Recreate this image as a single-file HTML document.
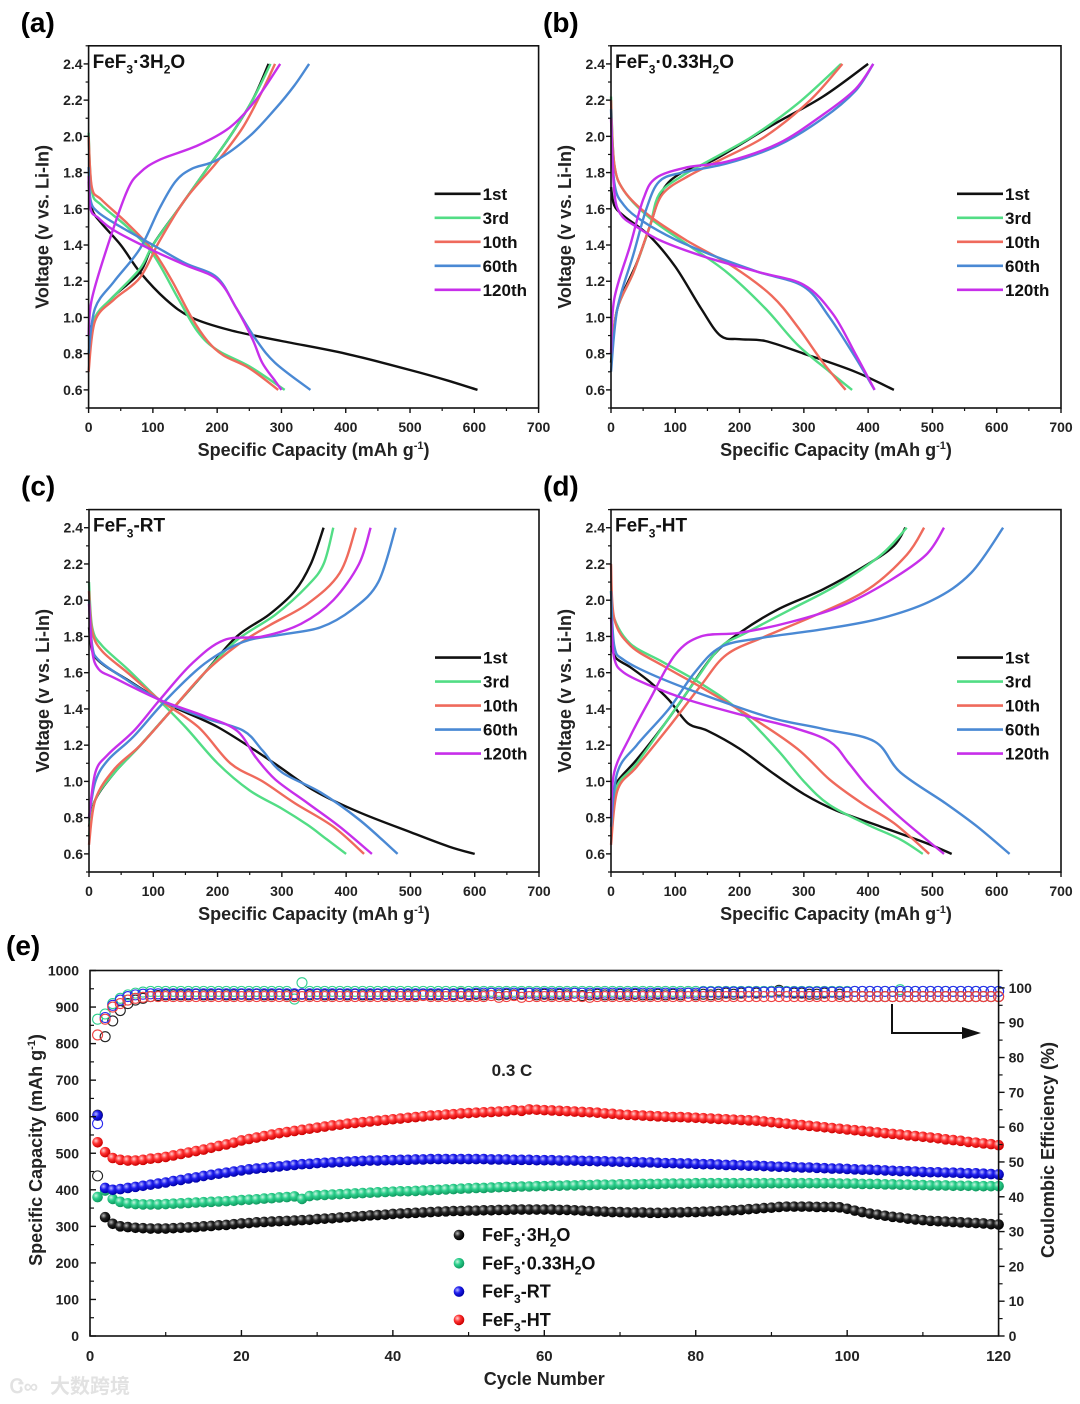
<!DOCTYPE html>
<html><head><meta charset="utf-8">
<style>
html,body{margin:0;padding:0;background:#fff;}
svg{display:block;font-family:"Liberation Sans",Arial,sans-serif;font-weight:bold;}
</style></head>
<body>
<svg id="fig" width="1080" height="1404" viewBox="0 0 1080 1404" xmlns="http://www.w3.org/2000/svg">
<defs>
<radialGradient id="gBlack" cx="35%" cy="35%" r="65%"><stop offset="0" stop-color="#bbb"/><stop offset="0.45" stop-color="#222"/><stop offset="1" stop-color="#000"/></radialGradient>
<radialGradient id="gGreen" cx="35%" cy="35%" r="65%"><stop offset="0" stop-color="#c8f5e0"/><stop offset="0.45" stop-color="#2ccf8c"/><stop offset="1" stop-color="#109a60"/></radialGradient>
<radialGradient id="gBlue" cx="35%" cy="35%" r="65%"><stop offset="0" stop-color="#b8b8ff"/><stop offset="0.45" stop-color="#1f1fee"/><stop offset="1" stop-color="#0000a8"/></radialGradient>
<radialGradient id="gRed" cx="35%" cy="35%" r="65%"><stop offset="0" stop-color="#ffd0d0"/><stop offset="0.45" stop-color="#f33"/><stop offset="1" stop-color="#c00"/></radialGradient>
</defs>
</svg>
<script>
// ===== Panel (a) FeF3·3H2O : [capacity, voltage] =====
const a_1st_dis=[[0,1.75],[5,1.6],[20,1.52],[50,1.4],[80,1.25],[120,1.1],[160,1.0],[220,0.93],[300,0.87],[400,0.8],[500,0.71],[560,0.65],[605,0.6]];
const a_1st_chg=[[0,0.9],[10,1.0],[40,1.12],[80,1.25],[100,1.4],[140,1.6],[180,1.8],[220,2.0],[255,2.2],[280,2.4]];
const a_3rd_dis=[[0,2.02],[5,1.7],[20,1.62],[60,1.5],[100,1.35],[140,1.1],[170,0.92],[200,0.82],[250,0.73],[305,0.6]];
const a_3rd_chg=[[0,0.8],[10,1.0],[40,1.12],[80,1.27],[100,1.4],[140,1.6],[180,1.8],[220,2.0],[255,2.2],[283,2.4]];
const a_10th_dis=[[0,2.0],[5,1.72],[20,1.65],[60,1.52],[100,1.37],[130,1.2],[160,1.0],[185,0.87],[210,0.79],[250,0.72],[295,0.6]];
const a_10th_chg=[[0,0.7],[10,0.98],[40,1.1],[80,1.22],[110,1.42],[150,1.65],[200,1.86],[240,2.05],[270,2.25],[290,2.4]];
const a_60th_dis=[[0,1.83],[3,1.65],[15,1.58],[50,1.5],[100,1.4],[150,1.3],[200,1.22],[230,1.05],[260,0.88],[290,0.75],[345,0.6]];
const a_60th_chg=[[0,0.8],[10,1.05],[40,1.2],[80,1.38],[110,1.6],[135,1.75],[160,1.82],[200,1.87],[250,2.0],[290,2.15],[320,2.28],[343,2.4]];
const a_120th_dis=[[0,1.78],[3,1.6],[15,1.55],[40,1.48],[100,1.37],[150,1.29],[200,1.21],[230,1.05],[255,0.88],[270,0.75],[290,0.65],[300,0.6]];
const a_120th_chg=[[0,0.9],[5,1.1],[30,1.4],[60,1.7],[80,1.8],[110,1.87],[170,1.95],[220,2.05],[260,2.2],[298,2.4]];
// ===== Panel (b) FeF3·0.33H2O =====
const b_1st_dis=[[0,1.72],[5,1.62],[20,1.56],[60,1.45],[100,1.28],[140,1.05],[170,0.9],[200,0.88],[240,0.87],[300,0.8],[380,0.7],[440,0.6]];
const b_1st_chg=[[0,0.75],[10,1.05],[40,1.3],[60,1.5],[80,1.7],[110,1.8],[160,1.87],[250,2.06],[330,2.22],[400,2.4]];
const b_3rd_dis=[[0,2.22],[5,1.85],[20,1.7],[60,1.55],[120,1.4],[180,1.25],[240,1.05],[290,0.85],[340,0.7],[375,0.6]];
const b_3rd_chg=[[0,0.8],[10,1.05],[35,1.25],[60,1.5],[75,1.68],[110,1.78],[160,1.88],[220,2.0],[290,2.18],[358,2.4]];
const b_10th_dis=[[0,2.2],[5,1.85],[20,1.7],[60,1.56],[120,1.42],[190,1.28],[250,1.12],[290,0.95],[330,0.75],[365,0.6]];
const b_10th_chg=[[0,0.8],[10,1.05],[35,1.25],[60,1.5],[80,1.68],[120,1.78],[170,1.87],[240,2.0],[310,2.2],[360,2.4]];
const b_60th_dis=[[0,2.15],[5,1.75],[20,1.62],[50,1.53],[100,1.43],[160,1.34],[230,1.25],[300,1.17],[340,1.0],[380,0.78],[410,0.6]];
const b_60th_chg=[[0,0.7],[10,1.05],[35,1.35],[55,1.6],[75,1.75],[110,1.8],[180,1.85],[260,1.95],[330,2.1],[380,2.25],[408,2.4]];
const b_120th_dis=[[0,2.1],[5,1.7],[15,1.57],[40,1.5],[80,1.42],[150,1.33],[230,1.25],[300,1.18],[345,1.02],[380,0.8],[410,0.6]];
const b_120th_chg=[[0,0.8],[5,1.1],[30,1.4],[50,1.65],[70,1.77],[120,1.83],[180,1.86],[260,1.96],[330,2.12],[380,2.26],[408,2.4]];
// ===== Panel (c) FeF3-RT =====
const c_1st_dis=[[0,1.85],[5,1.72],[20,1.65],[60,1.56],[120,1.43],[200,1.3],[280,1.12],[350,0.95],[420,0.83],[500,0.72],[560,0.64],[600,0.6]];
const c_1st_chg=[[0,0.75],[10,0.9],[40,1.05],[80,1.2],[130,1.4],[180,1.6],[230,1.8],[280,1.92],[320,2.05],[345,2.2],[365,2.4]];
const c_3rd_dis=[[0,2.1],[5,1.85],[20,1.75],[60,1.62],[100,1.48],[150,1.3],[200,1.1],[250,0.95],[300,0.85],[340,0.76],[370,0.68],[400,0.6]];
const c_3rd_chg=[[0,0.7],[10,0.9],[40,1.05],[80,1.2],[130,1.4],[180,1.6],[230,1.78],[290,1.92],[340,2.08],[365,2.2],[380,2.4]];
const c_10th_dis=[[0,2.05],[5,1.83],[20,1.72],[60,1.6],[110,1.45],[170,1.3],[220,1.1],[270,1.0],[320,0.88],[380,0.75],[428,0.6]];
const c_10th_chg=[[0,0.65],[10,0.9],[40,1.07],[80,1.2],[130,1.4],[180,1.6],[230,1.75],[280,1.86],[340,1.98],[390,2.15],[415,2.4]];
const c_60th_dis=[[0,2.0],[5,1.75],[15,1.67],[50,1.58],[110,1.45],[180,1.35],[240,1.28],[270,1.17],[300,1.05],[360,0.94],[420,0.79],[480,0.6]];
const c_60th_chg=[[0,0.8],[10,1.0],[30,1.12],[70,1.25],[120,1.45],[180,1.65],[240,1.77],[300,1.81],[360,1.85],[410,1.95],[450,2.1],[477,2.4]];
const c_120th_dis=[[0,1.98],[5,1.72],[15,1.62],[40,1.57],[110,1.45],[180,1.36],[230,1.28],[260,1.13],[290,1.01],[340,0.88],[390,0.75],[440,0.6]];
const c_120th_chg=[[0,0.8],[10,1.05],[30,1.15],[70,1.28],[110,1.45],[160,1.65],[210,1.78],[270,1.8],[330,1.87],[380,2.0],[420,2.2],[438,2.4]];
// ===== Panel (d) FeF3-HT =====
const d_1st_dis=[[0,1.75],[8,1.68],[30,1.63],[60,1.55],[90,1.45],[120,1.32],[150,1.28],[200,1.18],[250,1.05],[300,0.93],[350,0.84],[420,0.75],[490,0.66],[530,0.6]];
const d_1st_chg=[[0,0.9],[10,1.0],[40,1.12],[80,1.3],[120,1.5],[160,1.7],[200,1.82],[260,1.95],[330,2.06],[400,2.2],[440,2.3],[458,2.4]];
const d_3rd_dis=[[0,2.05],[5,1.9],[30,1.76],[80,1.66],[140,1.54],[200,1.39],[260,1.17],[300,1.0],[340,0.87],[400,0.76],[450,0.68],[485,0.6]];
const d_3rd_chg=[[0,0.8],[10,0.98],[40,1.1],[90,1.35],[130,1.55],[170,1.74],[210,1.82],[280,1.95],[350,2.08],[420,2.25],[460,2.4]];
const d_10th_dis=[[0,2.2],[5,1.9],[30,1.75],[80,1.64],[140,1.52],[220,1.35],[290,1.18],[340,1.01],[390,0.88],[440,0.77],[495,0.6]];
const d_10th_chg=[[0,0.65],[10,0.95],[40,1.08],[90,1.3],[140,1.53],[180,1.7],[240,1.8],[320,1.92],[400,2.06],[460,2.25],[487,2.4]];
const d_60th_dis=[[0,2.05],[5,1.75],[20,1.67],[70,1.58],[150,1.47],[250,1.35],[330,1.29],[410,1.22],[450,1.05],[520,0.88],[570,0.75],[620,0.6]];
const d_60th_chg=[[0,0.75],[10,1.05],[40,1.2],[90,1.4],[130,1.6],[170,1.74],[230,1.79],[330,1.84],[420,1.9],[500,2.0],[560,2.15],[610,2.4]];
const d_120th_dis=[[0,1.9],[5,1.68],[20,1.6],[60,1.53],[120,1.45],[200,1.37],[280,1.3],[340,1.22],[370,1.1],[400,0.97],[450,0.8],[518,0.6]];
const d_120th_chg=[[0,0.8],[5,1.05],[30,1.25],[60,1.45],[100,1.7],[140,1.8],[200,1.82],[280,1.88],[360,1.97],[430,2.1],[490,2.25],[518,2.4]];

const xTicksVC=[0,100,200,300,400,500,600,700];
const yTicksVC=[0.6,0.8,1.0,1.2,1.4,1.6,1.8,2.0,2.2,2.4];
const cycleLabels=['1st','3rd','10th','60th','120th'];

// ===== Panel (e) cycling =====
const capBlack=[605,325,307,300,298,296,295,294,294,294,295,296,297,298,300,301,303,304,306,308,309,311,312,313,314,315,316,317,318,320,321,322,324,325,327,328,330,331,332,334,335,336,337,338,339,340,341,342,342,343,343,344,344,345,345,346,346,346,346,346,346,345,345,344,343,342,341,340,339,339,338,338,338,337,337,337,338,338,339,339,340,341,342,343,344,345,347,348,350,351,353,354,354,354,354,353,353,353,352,348,343,339,335,332,329,326,324,321,319,317,315,314,313,312,311,310,309,308,306,305];
const capGreen=[380,398,375,367,363,361,360,360,360,361,362,363,364,365,366,367,368,369,370,372,373,374,376,377,379,380,382,375,383,385,386,387,388,389,390,391,392,393,394,395,396,396,397,398,399,400,401,402,403,404,405,405,406,407,408,408,409,409,410,410,411,411,412,412,413,413,414,414,414,415,415,415,416,416,416,417,417,417,417,418,418,418,418,418,418,418,418,418,418,418,418,418,418,418,418,418,418,418,417,417,417,416,416,416,415,415,414,414,413,413,412,412,412,411,411,411,410,410,410,410];
const capBlue=[603,405,400,402,405,408,411,414,417,420,424,427,431,434,438,441,444,447,450,453,456,458,460,462,464,466,468,470,471,473,474,475,476,477,478,479,480,480,481,481,482,482,483,483,484,484,484,484,484,484,484,484,483,483,483,482,482,482,481,481,481,480,480,480,479,479,478,478,477,477,476,476,475,475,474,473,473,472,472,471,470,470,469,468,468,467,466,466,465,464,463,463,462,461,461,460,459,458,458,457,456,455,455,454,453,452,451,451,450,449,448,448,447,447,446,445,445,444,443,442];
const capRed=[530,503,487,482,480,480,482,485,487,490,494,498,502,506,510,515,520,524,529,535,539,543,547,551,555,558,561,564,567,570,573,576,578,581,583,585,587,589,591,593,595,597,599,601,603,604,606,607,609,610,611,612,613,614,615,618,616,620,619,618,617,616,615,614,613,612,611,609,608,606,605,604,603,602,601,600,599,599,598,597,596,595,594,593,592,591,590,589,587,585,583,581,579,577,575,573,571,569,567,565,563,561,559,557,555,553,551,549,547,545,543,541,538,536,534,531,529,527,525,522];
const ceBlack=[46,86,90.5,93.5,95.5,96.5,97,97.5,97.8,98,98,98,98,98.2,98,98,98.2,98,98,98.2,98,98.2,98,98,98.2,98,98,98.2,98,98.2,98,98,98.2,98,98.2,98,98,98.2,98,98,98.2,98,98,98.2,98,98,98.2,98,98.5,98,98.2,98,98.5,98,98.2,98,98.2,98.5,98,98.2,98,98.2,98,98.5,97.8,98,98.2,98,98,98.2,98,98.2,98,98,98.2,98,98.2,98,98.5,98,98.2,98,98.2,98.5,98.2,98.5,98.8,98.5,98.8,99,99.3,98.8,98.5,98.5,98.2,98.2,98.5,98.8,98.2,97.5,97.5,97.5,97.5,97.5,97.5,97.5,97.5,97.5,97.5,97.5,97.5,97.5,97.5,97.5,97.5,97.5,97.5,97.5,97.5,97.5];
const ceGreen=[91,92.5,95.5,97,98,98.5,98.8,99,99,99,99,99,99,99,99,99,99,99,99,99,99,99,99,99,99,99,96.8,101.5,99,99,99,99,99,99,99,99,99,99,99,99,99,99,99,99,99,99,99,99,99,99,99,99,99,99,99,99,99,99,99,99,99,99,99,99,99,99,99,99,99,99,99,99,99,99,99,99,99,99,99,99,99,99,99,99,99,99,99,99,99,99,99,99,99,99,99,99,99,99,99,99,99,99,99,99,99,99,99.5,99,99,99,99,99,99,99,99,99,99,99,99,99];
const ceBlue=[61,91.5,95,96.5,97.5,98,98.2,98.3,98.3,98.3,98.3,98.3,98.3,98.3,98.3,98.3,98.3,98.3,98.3,98.3,98.3,98.3,98.3,98.3,98.3,98.3,98.3,98.3,98.3,98.3,98.3,98.3,98.3,98.3,98.3,98.3,98.3,98.3,98.3,98.3,98.3,98.3,98.3,98.3,98.3,98.3,98.3,98.3,98.3,98.3,98.5,98.5,98.5,98.5,98.5,98.5,98.5,98.5,98.5,98.5,98.5,98.5,98.5,98.5,98.5,98.5,98.5,98.5,98.5,98.5,98.5,98.5,98.5,98.5,98.5,98.5,98.5,98.5,98.5,98.5,98.8,98.8,98.8,98.8,98.8,98.8,98.8,98.8,98.8,98.8,98.8,98.8,98.8,98.8,98.8,98.8,98.8,98.8,98.8,98.8,99,99,99,99,99,99,99,99,99,99,99,99,99,99,99,99,99,99,99,99];
const ceRed=[86.5,91,94.5,95.5,96.5,97,97.3,97.5,97.5,97.5,97.5,97.5,97.5,97.5,97.5,97.5,97.5,97.5,97.5,97.5,97.5,97.5,97.5,97.5,97.5,97.5,97.5,97.5,97.5,97.5,97.5,97.5,97.5,97.5,97.5,97.5,97.5,97.5,97.5,97.5,97.5,97.5,97.5,97.8,97.5,97.5,97.5,97.5,97.5,97.5,97.5,97.5,97.8,97.3,97.5,97.8,97.3,97.5,97.5,97.5,97.5,97.5,97.5,97.5,97.5,97.3,97.5,97.5,97.5,97.5,97.5,97.5,97.5,97.5,97.5,97.5,97.5,97.5,97.5,97.5,97.5,97.5,97.5,97.5,97.5,97.5,97.5,97.5,97.5,97.5,97.5,97.5,97.5,97.5,97.5,97.5,97.5,97.5,97.5,97.5,97.5,97.5,97.5,97.5,97.5,97.5,97.5,97.5,97.5,97.5,97.5,97.5,97.5,97.5,97.5,97.5,97.5,97.5,97.5,97.5];
const eXTicks=[0,20,40,60,80,100,120];
const eYTicks=[0,100,200,300,400,500,600,700,800,900,1000];
const eY2Ticks=[0,10,20,30,40,50,60,70,80,90,100];
const legendNames=['FeF3·3H2O','FeF3·0.33H2O','FeF3-RT','FeF3-HT'];

const NS='http://www.w3.org/2000/svg';
const svg=document.getElementById('fig');
function mk(tag,attrs,parent){const e=document.createElementNS(NS,tag);for(const k in attrs)e.setAttribute(k,attrs[k]);(parent||svg).appendChild(e);return e;}
function catmull(pts){let d='M'+pts[0][0].toFixed(1)+','+pts[0][1].toFixed(1);for(let i=0;i<pts.length-1;i++){const p0=pts[i-1]||pts[i],p1=pts[i],p2=pts[i+1],p3=pts[i+2]||p2;const c1=[p1[0]+(p2[0]-p0[0])/6,p1[1]+(p2[1]-p0[1])/6],c2=[p2[0]-(p3[0]-p1[0])/6,p2[1]-(p3[1]-p1[1])/6];d+='C'+c1[0].toFixed(1)+','+c1[1].toFixed(1)+' '+c2[0].toFixed(1)+','+c2[1].toFixed(1)+' '+p2[0].toFixed(1)+','+p2[1].toFixed(1);}return d;}
function subText(el,str,fs){
  const parts=[];const re=/(FeF)(3)|(H)(2)/g;let last=0,m;
  while((m=re.exec(str))){parts.push({t:str.slice(last,m.index)+(m[1]||m[3]),s:false});parts.push({t:m[2]||m[4],s:true});last=m.index+m[0].length;}
  parts.push({t:str.slice(last),s:false});
  const sh=fs*0.3;let prevSub=false;
  parts.forEach(p=>{if(!p.t)return;const ts=document.createElementNS(NS,'tspan');ts.textContent=p.t;
    if(p.s){ts.setAttribute('font-size',Math.round(fs*0.65));ts.setAttribute('dy',sh);}
    else if(prevSub){ts.setAttribute('dy',-sh);}
    prevSub=p.s;el.appendChild(ts);});
}
const colors=['#111111','#52dd85','#ef6a5c','#4a89d4','#c72fea'];

function panel(id,letter,title,x0,x1,yT,yB,curves){
  const g=mk('g',{});
  
  
  const sx=v=>x0+(v/700)*(x1-x0);
  const sy=v=>yB-(v-0.5)/2*(yB-yT);
  const lab=mk('text',{x:x0-68,y:yT-14,'font-size':28},g);lab.textContent='('+letter+')';
  
  curves.forEach((pair,i)=>{pair.forEach((arr,j)=>{
    const p=mk('path',{d:catmull(arr.map(q=>[sx(q[0]),sy(q[1])])),fill:'none',stroke:colors[i],'stroke-width':2.4,'stroke-linejoin':'round'},g);
    
    
  });});
  const fr=mk('rect',{x:x0,y:yT,width:x1-x0,height:yB-yT,fill:'none',stroke:'#111','stroke-width':1.6},g);
  
  xTicksVC.forEach(v=>{const X=sx(v);mk('line',{x1:X,x2:X,y1:yB,y2:yB+5,stroke:'#111','stroke-width':1.4},g);
    if(v<700)mk('line',{x1:sx(v+50),x2:sx(v+50),y1:yB,y2:yB+3,stroke:'#111','stroke-width':1.2},g);
    const t=mk('text',{x:X,y:yB+24,'font-size':14,'text-anchor':'middle',fill:'#222'},g);t.textContent=v;
    });
  yTicksVC.forEach(v=>{const Y=sy(v);mk('line',{x1:x0-5,x2:x0,y1:Y,y2:Y,stroke:'#111','stroke-width':1.4},g);
    const t=mk('text',{x:x0-6,y:Y+5,'font-size':14,'text-anchor':'end',fill:'#222'},g);t.textContent=v.toFixed(1);
    });
  [0.5,0.7,0.9,1.1,1.3,1.5,1.7,1.9,2.1,2.3,2.5].forEach(v=>mk('line',{x1:x0-3,x2:x0,y1:sy(v),y2:sy(v),stroke:'#111','stroke-width':1.2},g));
  const xt=mk('text',{x:(x0+x1)/2,y:yB+48,'font-size':18,'text-anchor':'middle',fill:'#222'},g);
  
  xt.innerHTML='Specific Capacity (mAh g<tspan font-size="11" dy="-7">-1</tspan><tspan dy="7">)</tspan>';
  const cy=(yT+yB)/2;const yt=mk('text',{x:x0-40,y:cy,'font-size':18,'text-anchor':'middle',fill:'#222',transform:'rotate(-90 '+(x0-40)+' '+cy+')'},g);
  yt.textContent='Voltage (v vs. Li-In)';
  const tt=mk('text',{x:x0+4,y:yT+22,'font-size':19,fill:'#111'},g);subText(tt,title,19);
  
  cycleLabels.forEach((c,i)=>{const ly=yT+148+i*24;
    const le=mk('g',{},g);
    mk('line',{x1:x1-104,x2:x1-58,y1:ly,y2:ly,stroke:colors[i],'stroke-width':2.6},le);
    const t=mk('text',{x:x1-56,y:ly+6,'font-size':17,fill:'#111'},le);t.textContent=c;});
}
panel('a','a','FeF3·3H2O',88.6,538.6,45.8,408,[[a_1st_dis,a_1st_chg],[a_3rd_dis,a_3rd_chg],[a_10th_dis,a_10th_chg],[a_60th_dis,a_60th_chg],[a_120th_dis,a_120th_chg]]);
panel('b','b','FeF3·0.33H2O',611,1061,45.8,408,[[b_1st_dis,b_1st_chg],[b_3rd_dis,b_3rd_chg],[b_10th_dis,b_10th_chg],[b_60th_dis,b_60th_chg],[b_120th_dis,b_120th_chg]]);
panel('c','c','FeF3-RT',89,539,509.6,872,[[c_1st_dis,c_1st_chg],[c_3rd_dis,c_3rd_chg],[c_10th_dis,c_10th_chg],[c_60th_dis,c_60th_chg],[c_120th_dis,c_120th_chg]]);
panel('d','d','FeF3-HT',611,1061,509.6,872,[[d_1st_dis,d_1st_chg],[d_3rd_dis,d_3rd_chg],[d_10th_dis,d_10th_chg],[d_60th_dis,d_60th_chg],[d_120th_dis,d_120th_chg]]);

// ===== Panel e =====
(function(){
  const x0=90,x1=998.6,yT=970.5,yB=1336;
  const sx=v=>x0+v/120*(x1-x0);
  const sy=v=>yB-v/1000*(yB-yT);
  const sy2=v=>yB-v/105*(yB-yT);
  const g=mk('g',{});
  const lab=mk('text',{x:6,y:955,'font-size':28},g);lab.textContent='(e)';
  
  const ceStroke=['#222','#2fcf8e','#2a2af0','#f04040'];
  [ceBlack,ceGreen,ceBlue,ceRed].forEach((arr,s)=>{arr.forEach((v,i)=>{
    const c=mk('circle',{cx:sx(i+1),cy:sy2(v),r:5,fill:'none',stroke:ceStroke[s],'stroke-width':1.1},g);
    });});
  const fills=['url(#gBlack)','url(#gGreen)','url(#gBlue)','url(#gRed)'];
  [capBlack,capGreen,capBlue,capRed].forEach((arr,s)=>{arr.forEach((v,i)=>{
    const c=mk('circle',{cx:sx(i+1),cy:sy(v),r:5.3,fill:fills[s]},g);
    });});
  const fr=mk('rect',{x:x0,y:yT,width:x1-x0,height:yB-yT,fill:'none',stroke:'#111','stroke-width':1.6},g);
  
  eXTicks.forEach(v=>{const X=sx(v);mk('line',{x1:X,x2:X,y1:yB,y2:yB-6,stroke:'#111','stroke-width':1.4},g);
    if(v<120)mk('line',{x1:sx(v+10),x2:sx(v+10),y1:yB,y2:yB-4,stroke:'#111','stroke-width':1.2},g);
    const t=mk('text',{x:X,y:yB+25,'font-size':15,'text-anchor':'middle',fill:'#222'},g);t.textContent=v;
    });
  eYTicks.forEach(v=>{const Y=sy(v);mk('line',{x1:x0,x2:x0+6,y1:Y,y2:Y,stroke:'#111','stroke-width':1.4},g);
    if(v<1000)mk('line',{x1:x0,x2:x0+4,y1:sy(v+50),y2:sy(v+50),stroke:'#111','stroke-width':1.2},g);
    const t=mk('text',{x:x0-11,y:Y+5,'font-size':14,'text-anchor':'end',fill:'#222'},g);t.textContent=v;
    });
  eY2Ticks.forEach(v=>{const Y=sy2(v);mk('line',{x1:x1,x2:x1+6,y1:Y,y2:Y,stroke:'#111','stroke-width':1.4},g);
    mk('line',{x1:x1,x2:x1+4,y1:sy2(v+5),y2:sy2(v+5),stroke:'#111','stroke-width':1.2},g);
    const t=mk('text',{x:x1+10,y:Y+5,'font-size':14,fill:'#222'},g);t.textContent=v;
    });
  const xt=mk('text',{x:(x0+x1)/2,y:1385,'font-size':18,'text-anchor':'middle',fill:'#222'},g);xt.textContent='Cycle Number';
  
  const cy=1150;const yt=mk('text',{x:42,y:cy,'font-size':18,'text-anchor':'middle',fill:'#222',transform:'rotate(-90 42 '+cy+')'},g);
  yt.innerHTML='Specific Capacity (mAh g<tspan font-size="11" dy="-7">-1</tspan><tspan dy="7">)</tspan>';
  
  const y2=mk('text',{x:1054,y:cy,'font-size':18,'text-anchor':'middle',fill:'#222',transform:'rotate(-90 1054 '+cy+')'},g);
  y2.textContent='Coulombic Efficiency (%)';
  const rate=mk('text',{x:512,y:1076,'font-size':17,'text-anchor':'middle',fill:'#222'},g);rate.textContent='0.3 C';
  
  const ar=mk('path',{d:'M892,1004 V1033 H966',fill:'none',stroke:'#111','stroke-width':2},g);
  
  mk('polygon',{points:'981,1033 962,1027 962,1039',fill:'#111'},g);
  legendNames.forEach((n,i)=>{const ly=1235+i*28.3;
    const le=mk('g',{},g);
    mk('circle',{cx:459,cy:ly,r:5.3,fill:fills[i]},le);
    const t=mk('text',{x:482,y:ly+6,'font-size':18,fill:'#111'},le);subText(t,n,18);});
  const wm=mk('text',{x:50,y:1393,'font-size':20,fill:'#e2e2e2','font-family':'"Liberation Sans","Noto Sans CJK SC",sans-serif'},g);
  wm.textContent='大数跨境';
  const wl=mk('text',{x:10,y:1393,'font-size':20,fill:'#e2e2e2'},g);wl.textContent='Ꮳ∞';
  
})();
</script>
</body></html>
